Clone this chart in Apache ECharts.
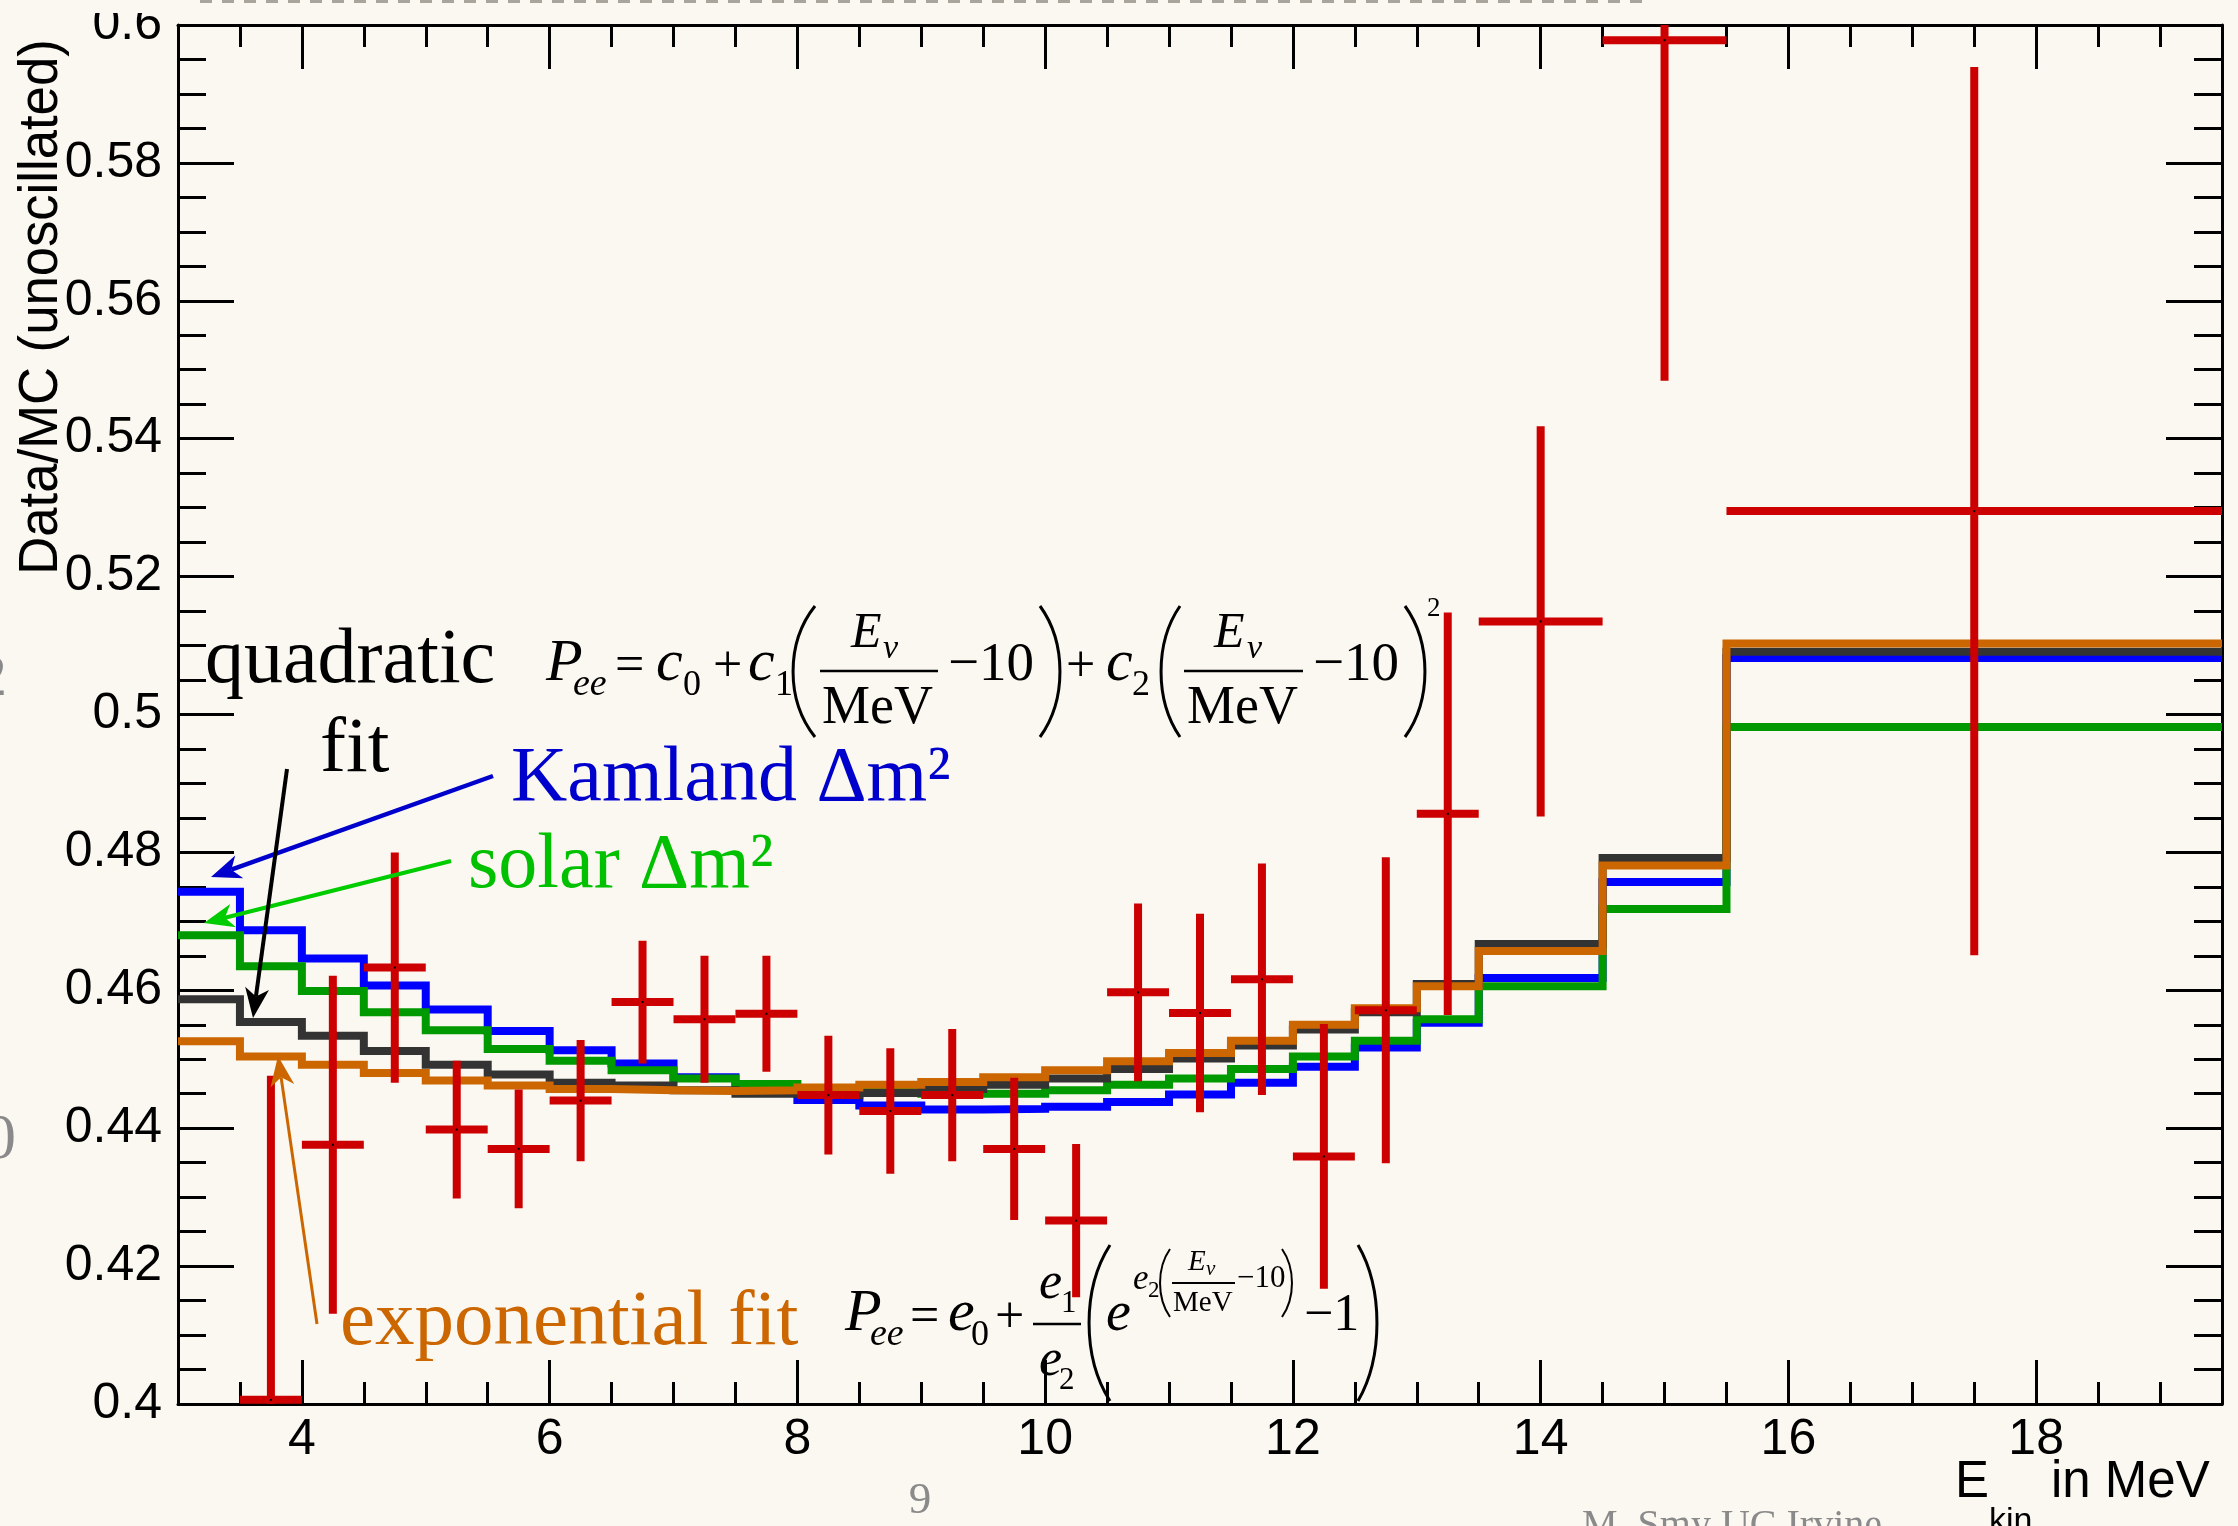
<!DOCTYPE html>
<html><head><meta charset="utf-8">
<style>html,body{margin:0;padding:0;background:#fbf8f1;}#chart{width:2238px;height:1526px;}</style>
<script src="https://cdn.jsdelivr.net/npm/echarts@6/dist/echarts.min.js"></script>
</head><body><div id="chart"></div>
<script>
// ---------------- data ----------------
const histEdges = [3.0,3.5,4.0,4.5,5.0,5.5,6.0,6.5,7.0,7.5,8.0,8.5,9.0,9.5,10.0,10.5,11.0,11.5,12.0,12.5,13.0,13.5,14.5,15.5,19.5];
const kamlandFit     = [0.4743,0.4687,0.4646,0.4607,0.4572,0.4541,0.4513,0.4494,0.4474,0.4458,0.4441,0.4433,0.4427,0.4428,0.4431,0.4438,0.4449,0.4466,0.4489,0.4517,0.4553,0.4618,0.4757,0.5082];
const solarFit       = [0.4680,0.4635,0.4599,0.4568,0.4542,0.4515,0.4498,0.4484,0.4472,0.4464,0.4458,0.4453,0.4450,0.4450,0.4455,0.4463,0.4472,0.4486,0.4504,0.4527,0.4558,0.4606,0.4718,0.4982];
const quadraticFit   = [0.4587,0.4554,0.4534,0.4512,0.4492,0.4478,0.4466,0.4462,0.4455,0.4450,0.4448,0.4451,0.4457,0.4463,0.4472,0.4486,0.4501,0.4520,0.4543,0.4568,0.4609,0.4667,0.4792,0.5091];
const exponentialFit = [0.4526,0.4504,0.4492,0.4480,0.4469,0.4462,0.4457,0.4455,0.4454,0.4455,0.4459,0.4463,0.4467,0.4474,0.4484,0.4497,0.4509,0.4527,0.4550,0.4574,0.4606,0.4657,0.4781,0.5103];
const dataEdges  = [3.5,4.0,4.5,5.0,5.5,6.0,6.5,7.0,7.5,8.0,8.5,9.0,9.5,10.0,10.5,11.0,11.5,12.0,12.5,13.0,13.5,14.5,15.5,19.5];
const dataValues = [0.4006,0.4376,0.4633,0.4398,0.4370,0.4440,0.4583,0.4558,0.4566,0.4448,0.4425,0.4448,0.4370,0.4266,0.4597,0.4567,0.4616,0.4359,0.4571,0.4856,0.5135,0.5978,0.5295];
const dataErrors = [0.0470,0.0245,0.0167,0.0100,0.0086,0.0088,0.0089,0.0092,0.0084,0.0086,0.0091,0.0096,0.0103,0.0111,0.0129,0.0144,0.0168,0.0192,0.0222,0.0292,0.0283,0.0494,0.0644];
const xMajorTicks = [4,6,8,10,12,14,16,18];
const xRange = [3, 19.5];
const yRange = [0.4, 0.6];

// ---------------- helpers ----------------
function stepData(vals){
  const d = vals.map((v,i)=>[histEdges[i], v]);
  d.push([histEdges[histEdges.length-1], vals[vals.length-1]]);
  return d;
}
const BG = '#fbf8f1';
const SERIF = '"Liberation Serif","Times New Roman",serif';
const SANS = '"Liberation Sans",Arial,sans-serif';
function txt(x, base, s, size, o){
  o = o || {};
  const fam = o.sans ? SANS : SERIF;
  const el = {type:'text', x:x, y: base - 0.34*size, z:100, silent:true,
    style:{text:s, font:(o.italic?'italic ':'')+size+'px '+fam, fill:o.color||'#000',
      textAlign:o.align||'left', align:o.align||'left', textVerticalAlign:'middle', verticalAlign:'middle'}};
  if (o.scaleX) el.scaleX = o.scaleX;
  return el;
}
// thin bracket drawn as a curve; open = '(' bulges left, otherwise ')' bulges right
function paren(xl, xr, y0, y1, open, lw){
  const h = y1 - y0, w = xr - xl;
  const endX = open ? xr : xl, bulgeX = open ? xl - w*0.33 : xr + w*0.33;
  return {type:'bezierCurve', z:100, silent:true,
    shape:{x1:endX, y1:y0, cpx1:bulgeX, cpy1:y0+h*0.28, cpx2:bulgeX, cpy2:y0+h*0.72, x2:endX, y2:y1},
    style:{stroke:'#000', lineWidth:lw||3, fill:null}};
}
function hline(x1, x2, y, w, c){
  return {type:'line', z:100, silent:true, shape:{x1:x1,y1:y,x2:x2,y2:y}, style:{stroke:c||'#000', lineWidth:w||2.5}};
}
function arrow(sx, sy, tx, ty, color, w){
  const dx = tx-sx, dy = ty-sy, L = Math.hypot(dx,dy);
  const ux = dx/L, uy = dy/L, nx = -uy, ny = ux;
  const hl = 30, hw = 12;
  const notchX = tx-ux*hl*0.72, notchY = ty-uy*hl*0.72;
  return [
    {type:'line', z:100, silent:true, shape:{x1:sx,y1:sy,x2:notchX,y2:notchY}, style:{stroke:color, lineWidth:w}},
    {type:'polygon', z:100, silent:true, shape:{points:[[tx,ty],[tx-ux*hl+nx*hw, ty-uy*hl+ny*hw],[notchX,notchY],[tx-ux*hl-nx*hw, ty-uy*hl-ny*hw]]}, style:{fill:color}}
  ];
}

// ---------------- annotations ----------------
const g = [];
// top strip of the slide covers the top of the picture
g.push({type:'rect', z:95, silent:true, shape:{x:0, y:0, width:2238, height:13}, style:{fill:BG}});
// axis titles
g.push({type:'text', x:42, y:307, rotation:Math.PI/2, scaleX:0.94, z:100, silent:true,
  style:{text:'Data/MC (unoscillated)', font:'56px '+SANS, fill:'#000', textAlign:'center', align:'center', textVerticalAlign:'middle', verticalAlign:'middle'}});
g.push(txt(1955, 1500, 'E', 51, {sans:true}));
g.push(txt(1989, 1533, 'kin', 34, {sans:true}));
g.push(txt(2051, 1500, 'in MeV', 51, {sans:true}));
// labels
g.push(txt(205, 688, 'quadratic', 78));
g.push(txt(320, 777, 'fit', 78));
g.push(txt(511, 806, 'Kamland Δm²', 78, {color:'#0000cc'}));
g.push(txt(468, 893, 'solar Δm²', 78, {color:'#00c000'}));
g.push(txt(340, 1350, 'exponential fit', 79, {color:'#cc6600'}));
// arrows
g.push(...arrow(493, 776, 211, 877, '#0000cc', 4.5));
g.push(...arrow(451, 861, 204, 923, '#00cc00', 4));
g.push(...arrow(287, 769, 253, 1018, '#000000', 4));
g.push(...arrow(317, 1324, 278, 1056, '#cc6600', 3));
// formula 1 (quadratic)
g.push(txt(546, 685, 'P', 60, {italic:true}));
g.push(txt(573, 698, 'ee', 38, {italic:true}));
g.push(txt(615, 685, '=', 52));
g.push(txt(656, 685, 'c', 60, {italic:true}));
g.push(txt(683, 698, '0', 36));
g.push(txt(713, 685, '+', 52));
g.push(txt(748, 685, 'c', 60, {italic:true}));
g.push(txt(775, 698, '1', 36));
g.push(paren(793, 815, 606, 737, true, 3));
g.push(hline(820, 938, 671));
g.push(txt(851, 651, 'E', 50, {italic:true}));
g.push(txt(883, 661, 'ν', 34, {italic:true}));
g.push(txt(822, 727, 'MeV', 54));
g.push(txt(948, 684, '−10', 55));
g.push(paren(1040, 1060, 606, 737, false, 3));
g.push(txt(1066, 685, '+', 52));
g.push(txt(1106, 685, 'c', 60, {italic:true}));
g.push(txt(1132, 698, '2', 36));
g.push(paren(1161, 1180, 606, 737, true, 3));
g.push(hline(1184, 1303, 671));
g.push(txt(1214, 651, 'E', 50, {italic:true}));
g.push(txt(1247, 661, 'ν', 34, {italic:true}));
g.push(txt(1187, 727, 'MeV', 54));
g.push(txt(1313, 684, '−10', 55));
g.push(paren(1405, 1425, 606, 737, false, 3));
g.push(txt(1427, 618, '2', 27));
// formula 2 (exponential)
g.push(txt(845, 1335, 'P', 60, {italic:true}));
g.push(txt(870, 1348, 'ee', 38, {italic:true}));
g.push(txt(910, 1336, '=', 52));
g.push(txt(948, 1335, 'e', 60, {italic:true}));
g.push(txt(971, 1348, '0', 36));
g.push(txt(995, 1336, '+', 52));
g.push(hline(1033, 1081, 1324));
g.push(txt(1039, 1302, 'e', 52, {italic:true}));
g.push(txt(1061, 1314, '1', 31));
g.push(txt(1039, 1379, 'e', 52, {italic:true}));
g.push(txt(1059, 1391, '2', 31));
g.push(paren(1089, 1110, 1245, 1401, true, 3));
g.push(txt(1106, 1334, 'e', 56, {italic:true}));
g.push(txt(1133, 1292, 'e', 35, {italic:true}));
g.push(txt(1148, 1299, '2', 23));
g.push(paren(1160, 1170, 1249, 1317, true, 2));
g.push(txt(1188, 1272, 'E', 29, {italic:true}));
g.push(txt(1206, 1277, 'ν', 21, {italic:true}));
g.push(hline(1172, 1235, 1283, 1.8));
g.push(txt(1173, 1313, 'MeV', 29));
g.push(txt(1237, 1289, '−10', 31));
g.push(paren(1282, 1292, 1249, 1317, false, 2));
g.push(txt(1304, 1334, '−1', 52));
g.push(paren(1358, 1377, 1245, 1401, false, 3));
// slide remnants
g.push(txt(920, 1516, '9', 45, {color:'#8a8a8a', align:'center'}));
g.push(txt(1582, 1540, 'M. Smy UC Irvine', 40, {color:'#8a8a8a'}));
g.push({type:'line', z:100, silent:true, shape:{x1:200,y1:1,x2:1648,y2:1}, style:{stroke:'#a9a59d', lineWidth:4, lineDash:[12,10]}});
g.push(txt(16, 1163, '0', 64, {color:'#8a8a8a', align:'right'}));
g.push(txt(7, 700, '2', 60, {color:'#8a8a8a', align:'right'}));

// ---------------- chart ----------------
const axisLineStyle = {color:'#000', width:3};
const chart = echarts.init(document.getElementById('chart'), null, {renderer:'canvas'});
const xBase = {type:'value', min:xRange[0], max:xRange[1], splitLine:{show:false}, axisLine:{show:false, onZero:false, lineStyle:axisLineStyle}};
chart.setOption({
  backgroundColor:BG,
  animation:false,
  grid:{left:178, right:16, top:16, bottom:122, containLabel:false},
  xAxis:[
    Object.assign({}, xBase, {position:'bottom', axisLine:{show:true, onZero:false, lineStyle:axisLineStyle},
      axisTick:{show:true, inside:true, length:44, customValues:xMajorTicks, lineStyle:{color:'#000', width:3}},
      axisLabel:{show:true, customValues:xMajorTicks, margin:11, fontSize:50, fontFamily:SANS, color:'#000'}}),
    Object.assign({}, xBase, {position:'bottom', interval:0.5,
      axisTick:{show:true, inside:true, length:22, lineStyle:{color:'#000', width:3}}, axisLabel:{show:false}}),
    Object.assign({}, xBase, {position:'top', axisLine:{show:true, onZero:false, lineStyle:axisLineStyle},
      axisTick:{show:true, inside:true, length:44, customValues:xMajorTicks, lineStyle:{color:'#000', width:3}},
      axisLabel:{show:false}}),
    Object.assign({}, xBase, {position:'top', interval:0.5,
      axisTick:{show:true, inside:true, length:22, lineStyle:{color:'#000', width:3}}, axisLabel:{show:false}})
  ],
  yAxis:[
    {type:'value', position:'left', min:yRange[0], max:yRange[1], interval:0.02,
      axisLine:{show:true, onZero:false, lineStyle:axisLineStyle},
      axisTick:{show:true, inside:true, length:56, lineStyle:{color:'#000', width:3}},
      minorTick:{show:true, splitNumber:4, length:28, lineStyle:{color:'#000', width:3}},
      splitLine:{show:false}, minorSplitLine:{show:false},
      axisLabel:{show:true, margin:16, fontSize:50, fontFamily:SANS, color:'#000', showMaxLabel:true, showMinLabel:true}},
    {type:'value', position:'right', min:yRange[0], max:yRange[1], interval:0.02,
      axisLine:{show:true, onZero:false, lineStyle:axisLineStyle},
      axisTick:{show:true, inside:true, length:56, lineStyle:{color:'#000', width:3}},
      minorTick:{show:true, splitNumber:4, length:28, lineStyle:{color:'#000', width:3}},
      splitLine:{show:false}, minorSplitLine:{show:false}, axisLabel:{show:false}}
  ],
  series:[
    {type:'line', name:'Kamland Δm²', step:'end', symbol:'none', data:stepData(kamlandFit), lineStyle:{color:'#0000ff', width:8, cap:'butt', join:'miter'}},
    {type:'line', name:'solar Δm²', step:'end', symbol:'none', data:stepData(solarFit), lineStyle:{color:'#009900', width:8, cap:'butt', join:'miter'}},
    {type:'line', name:'quadratic fit', step:'end', symbol:'none', data:stepData(quadraticFit), lineStyle:{color:'#333333', width:8, cap:'butt', join:'miter'}},
    {type:'line', name:'exponential fit', step:'end', symbol:'none', data:stepData(exponentialFit), lineStyle:{color:'#cc6600', width:8, cap:'butt', join:'miter'}},
    {type:'custom', name:'data', xAxisIndex:0, yAxisIndex:0, z:5,
      data: dataValues.map((v,i)=>[dataEdges[i], dataEdges[i+1], v, dataErrors[i]]),
      encode:{x:[0,1], y:2},
      renderItem:function(params, api){
        const lo = api.value(0), hi = api.value(1), v = api.value(2), e = api.value(3);
        const c = (lo+hi)/2;
        const cl = y => Math.max(yRange[0], Math.min(yRange[1], y));
        const pL = api.coord([lo, v]), pR = api.coord([hi, v]);
        const pT = api.coord([c, cl(v+e)]), pB = api.coord([c, cl(v-e)]);
        const pc = api.coord([c, v]);
        const st = {stroke:'#cc0000', lineWidth:8};
        return {type:'group', children:[
          {type:'line', shape:{x1:pT[0], y1:pT[1], x2:pB[0], y2:pB[1]}, style:st},
          {type:'line', shape:{x1:pL[0], y1:pL[1], x2:pR[0], y2:pR[1]}, style:st},
          {type:'rect', shape:{x:pc[0]-1, y:pc[1]-1, width:2, height:2}, style:{fill:'#000'}}
        ]};
      }}
  ],
  graphic:{elements:g}
});
</script></body></html>
